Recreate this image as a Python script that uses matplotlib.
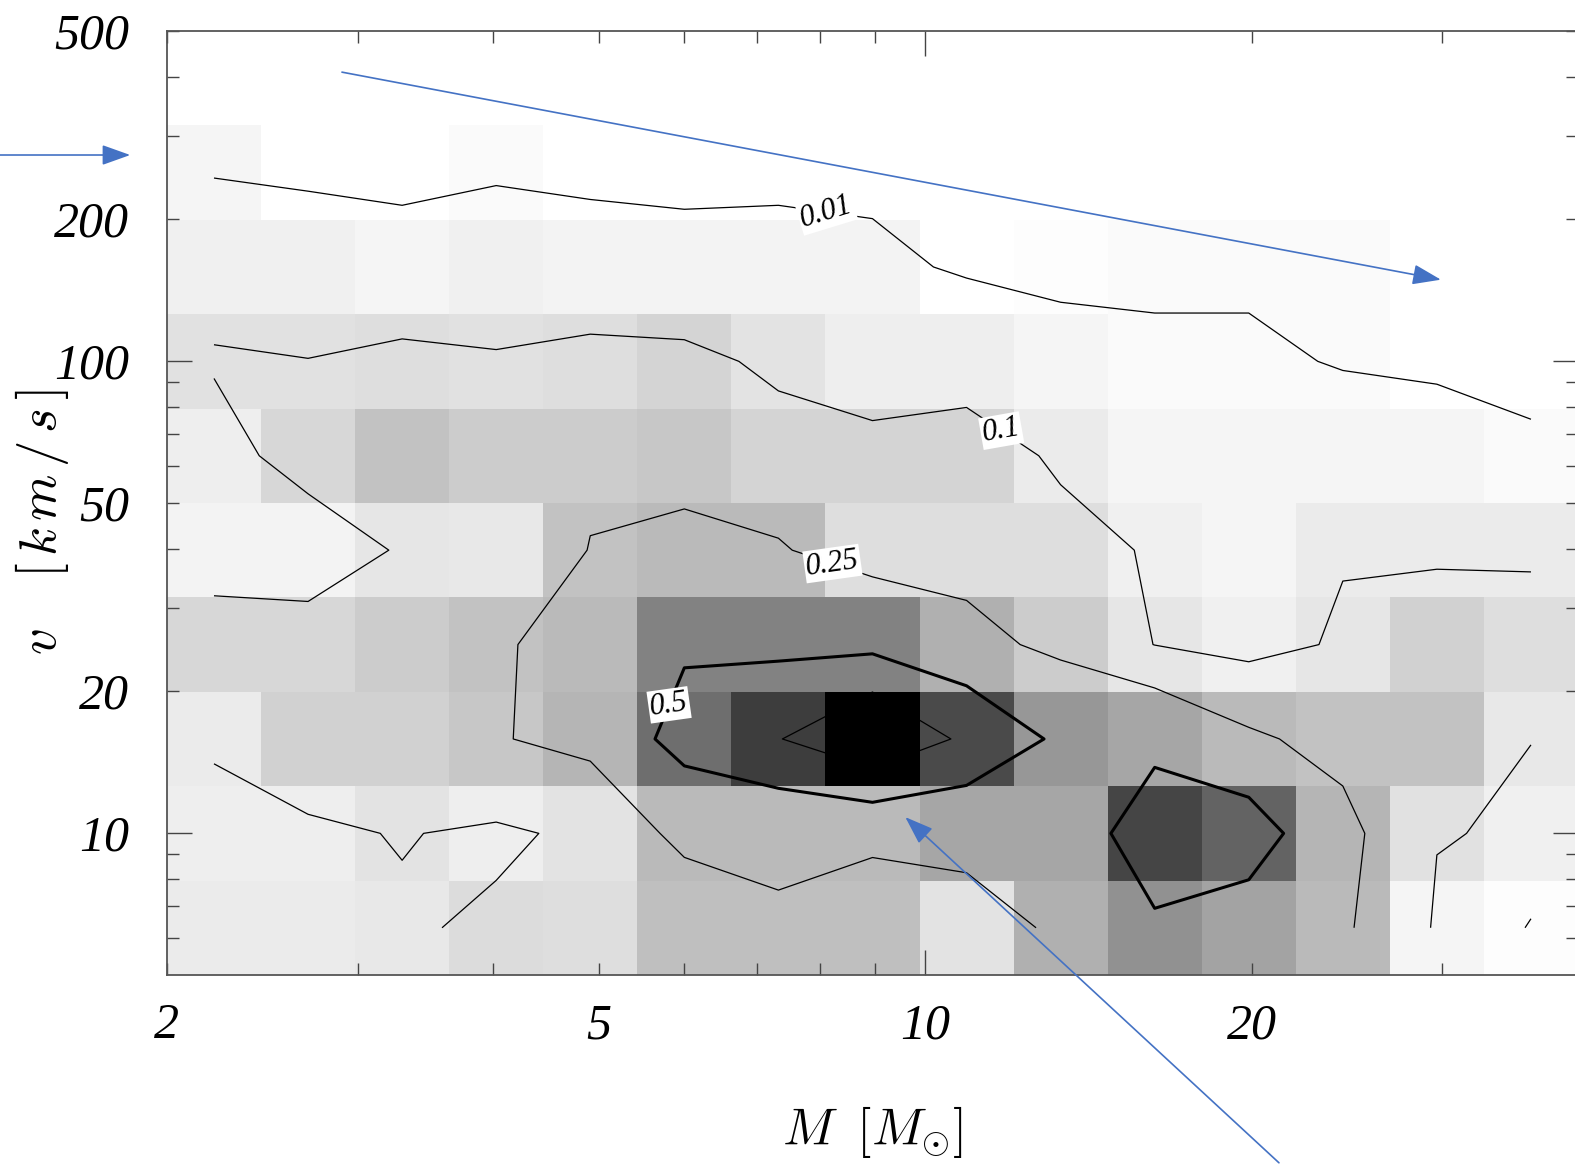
import numpy as np
import matplotlib.pyplot as plt
from matplotlib.ticker import FixedLocator, FixedFormatter, NullFormatter

plt.rcParams['font.family'] = ['Liberation Serif', 'DejaVu Serif']
plt.rcParams['font.style'] = 'italic'
plt.rcParams['mathtext.fontset'] = 'cm'

# log spaced bins in mass and velocity
m_edges = np.geomspace(2, 40, 16)
v_edges = np.geomspace(5, 500, 11)
m_mid = np.sqrt(m_edges[:-1] * m_edges[1:])
v_mid = np.sqrt(v_edges[:-1] * v_edges[1:])

# grey level of each cell (0 = empty, 1 = peak), rows from low v to high v
shade = np.array([
    [.08, .08, .09, .14, .13, .25, .25, .25, .11, .31, .43, .36, .27, .04, .01],
    [.07, .07, .11, .07, .11, .27, .27, .27, .35, .35, .73, .61, .29, .12, .06],
    [.08, .18, .18, .22, .29, .57, .76, 1.0, .71, .41, .35, .27, .24, .24, .09],
    [.16, .16, .20, .24, .27, .49, .49, .49, .31, .20, .10, .06, .10, .18, .13],
    [.05, .05, .10, .09, .24, .27, .27, .13, .13, .13, .06, .04, .08, .08, .08],
    [.07, .16, .24, .20, .20, .22, .17, .17, .17, .08, .04, .04, .04, .04, .02],
    [.12, .12, .13, .12, .13, .17, .11, .07, .07, .04, .02, .02, .02, .00, .00],
    [.06, .06, .04, .06, .05, .05, .05, .05, .00, .01, .02, .02, .02, .00, .00],
    [.04, .00, .00, .02, .00, .00, .00, .00, .00, .00, .00, .00, .00, .00, .00],
    [.00, .00, .00, .00, .00, .00, .00, .00, .00, .00, .00, .00, .00, .00, .00],
])

# smoothed fraction at the cell centres, used for the contours
frac = np.array([
    [0.040, 0.050, 0.092, 0.112, 0.150, 0.133, 0.210, 0.120, 0.150, 0.289, 0.459, 0.408, 0.270, 0.0865, 0.101],
    [0.033, 0.088, 0.104, 0.085, 0.120, 0.300, 0.326, 0.306, 0.340, 0.292, 0.700, 0.612, 0.290, 0.105, 0.088],
    [0.130, 0.160, 0.200, 0.240, 0.300, 0.600, 0.740, 1.000, 0.695, 0.454, 0.392, 0.272, 0.200, 0.170, 0.101],
    [0.151, 0.144, 0.180, 0.231, 0.320, 0.459, 0.436, 0.432, 0.310, 0.200, 0.098, 0.052, 0.118, 0.160, 0.140],
    [0.040, 0.034, 0.112, 0.120, 0.255, 0.330, 0.264, 0.160, 0.164, 0.136, 0.089, 0.060, 0.089, 0.081, 0.085],
    [0.053, 0.156, 0.200, 0.190, 0.215, 0.120, 0.128, 0.140, 0.160, 0.080, 0.050, 0.050, 0.025, 0.020, 0.013],
    [0.113, 0.102, 0.120, 0.109, 0.125, 0.120, 0.084, 0.015, 0.028, 0.018, 0.015, 0.015, 0.008, 0.006, 0.004],
    [0.023, 0.023, 0.019, 0.020, 0.022, 0.015, 0.019, 0.015, 0.007, 0.004, 0.004, 0.004, 0.003, 0.003, 0.003],
    [0.009, 0.006, 0.004, 0.008, 0.004, 0.006, 0.004, 0.004, 0.002, 0.002, 0.002, 0.002, 0.002, 0.002, 0.002],
    [0.000, 0.000, 0.000, 0.000, 0.000, 0.000, 0.000, 0.000, 0.000, 0.000, 0.000, 0.000, 0.000, 0.000, 0.000],
])

levels = [0.01, 0.1, 0.25, 0.5, 0.75]
level_text = {0.01: '0.01', 0.1: '0.1', 0.25: '0.25', 0.5: '0.5'}
label_at = [(8.1, 202), (11.7, 70), (8.2, 36.7), (5.8, 18.7)]
label_rot = {'0.01': 17, '0.1': 10, '0.25': 8, '0.5': 8}

x_ticks = [2, 5, 10, 20]
y_ticks = [10, 20, 50, 100, 200, 500]

# annotation arrows (tail, head)
arrows = [((1.38, 273), (1.85, 273)),
          ((2.9, 409), (29.9, 148.6)),
          ((21.2, 2.0), (9.59, 10.8))]

fig = plt.figure(figsize=(15.75, 11.64), dpi=100)
ax = fig.add_axes([0.1060, 0.1624, 0.8959, 0.8110])

ax.pcolormesh(m_edges, v_edges, shade, cmap='gray_r', vmin=0, vmax=1, shading='flat', zorder=1)
cs = ax.contour(m_mid, v_mid, frac, levels=levels, colors='black',
                linewidths=[0.9, 0.9, 0.9, 2.2, 0.9], zorder=2)

ax.set_xscale('log')
ax.set_yscale('log')
ax.set_xlim(2, 40)
ax.set_ylim(5, 500)

# labels sit on white boxes that hide the line beneath them
labels = ax.clabel(cs, levels=[0.01, 0.1, 0.25, 0.5], manual=label_at, inline=False,
                   fmt=level_text, fontsize=22)
for t in labels:
    t.set_rotation(label_rot[t.get_text()])
    t.set_bbox(dict(facecolor='white', edgecolor='none', pad=1.0))
    t.set_zorder(4)

ax.xaxis.set_major_locator(FixedLocator(x_ticks))
ax.xaxis.set_major_formatter(FixedFormatter([str(v) for v in x_ticks]))
ax.xaxis.set_minor_locator(FixedLocator([3, 4, 6, 7, 8, 9, 30, 40]))
ax.xaxis.set_minor_formatter(NullFormatter())
ax.yaxis.set_major_locator(FixedLocator(y_ticks))
ax.yaxis.set_major_formatter(FixedFormatter([str(v) for v in y_ticks]))
ax.yaxis.set_minor_locator(FixedLocator([6, 7, 8, 9, 30, 40, 60, 70, 80, 90, 300, 400]))
ax.yaxis.set_minor_formatter(NullFormatter())

ax.tick_params(which='both', direction='in', top=True, right=True, color='#444444', width=1.0)
ax.tick_params(which='both', length=8.5)
ax.tick_params(axis='x', which='major', labelsize=36, pad=20)
ax.tick_params(axis='y', which='major', labelsize=36, pad=27)

# decade ticks are drawn longer
for i in [2]:
    tk = ax.xaxis.get_major_ticks()[i]
    tk.tick1line.set_markersize(18)
    tk.tick2line.set_markersize(18)
for i in [0, 3]:
    tk = ax.yaxis.get_major_ticks()[i]
    tk.tick1line.set_markersize(18)
    tk.tick2line.set_markersize(18)

for sp in ax.spines.values():
    sp.set_color('#555555')
    sp.set_linewidth(1.3)

ax.set_xlabel(r'$M\;\;[M_{\odot}]$', fontsize=37)
ax.xaxis.set_label_coords(0.5, -0.137)
ax.set_ylabel(r'$v\;\;\;\;[\,k\,m\,/\,s\,]$', fontsize=38)
ax.yaxis.set_label_coords(-0.068, 0.48)

for tail, head in arrows:
    ax.annotate('', xy=head, xytext=tail, xycoords='data', annotation_clip=False,
                arrowprops=dict(arrowstyle='-|>,head_length=0.7,head_width=0.25',
                                color='#4472c4', lw=1.2, shrinkA=0, shrinkB=0,
                                mutation_scale=25), zorder=5)

fig.savefig('out.png', dpi=100)
